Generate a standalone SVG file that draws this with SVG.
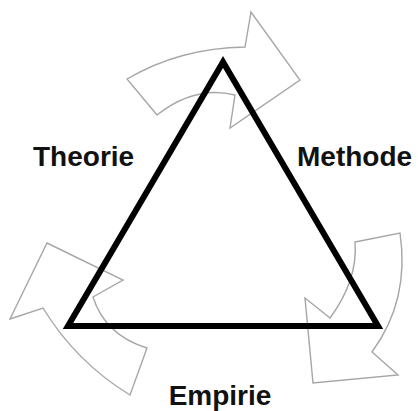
<svg xmlns="http://www.w3.org/2000/svg" width="420" height="411" viewBox="0 0 420 411">
<style>
.arrow{fill:#fff;stroke:#a6a6a6;stroke-width:1.4;stroke-linejoin:miter}
.tri{fill:none;stroke:#000;stroke-width:6;stroke-linejoin:miter}
.lbl{font-family:"Liberation Sans",Arial,sans-serif;font-weight:bold;font-size:28px;fill:#111}
</style>
<rect width="420" height="411" fill="#fff"/>
<g id="connectors">
<path id="arrow-top" class="arrow" d="M127,79 Q180,48 245,47 L251,12 L300,80 L230,128 L235,95 Q195,85 157,115 Z"/>
<path id="arrow-right" class="arrow" d="M355,242 L400,233 Q410,300 372,352 L398,375 L313,383 L305,298 L330,318 Q358,280 355,242 Z"/>
<path id="arrow-left" class="arrow" d="M47,243 L123,280 L93,297 Q105,335 147,348 L130,395 Q76,362 43,308 L10,319 Z"/>
</g>
<g id="triangle">
<path class="tri" d="M223,62 L68,326 L378,326 Z"/>
</g>
<g id="node-theorie"><text class="lbl" x="33" y="166">Theorie</text></g>
<g id="node-methode"><text class="lbl" x="297" y="166">Methode</text></g>
<g id="node-empirie"><text class="lbl" x="220" y="405" text-anchor="middle">Empirie</text></g>
</svg>
